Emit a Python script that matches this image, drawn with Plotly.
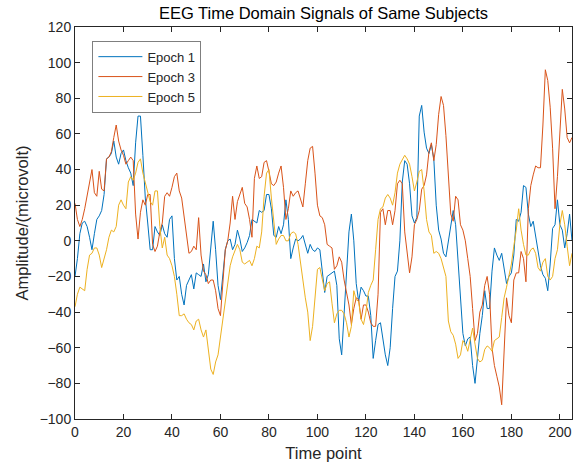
import plotly.graph_objects as go

time_points = list(range(206))

epoch1 = [-20, -10, 4, 10, 11, 8, 2, -5, 4, 12, 14, 17, 26, 46, 47, 49, 56, 47, 43, 49,
          51, 45, 41, 38, 31, 55, 70, 70, 48, 24, 10, -5, -5, 8, 5, 3, 9, 4, 2, 12,
          14, -10, -22, -20, -30, -36, -25, -22, -19, -27, -18, -19, -20, -13, -23, -19, -5, 11, -5, -25,
          -33, -17, -5, 0, 1, -5, -2, 6, 1, -6, -4, -1, 3, 12, 11, 10, 17, 16, 17, 26,
          26, 18, 3, 2, 8, 4, 9, 23, 12, -10, -4, 1, 0, 1, 3, -2, -7, -2, -5, -6,
          -4, -5, -18, -29, -20, -19, -18, -17, -25, -55, -64, -40, -15, 5, 15, 0, -24, -34, -26, -28,
          -31, -31, -42, -66, -56, -47, -46, -55, -64, -70, -60, -38, -20, -17, 0, 33, 45, 43, 32, 14,
          10, 13, 70, 76, 61, 52, 49, 54, 46, 20, 6, 1, -7, -9, 0, 10, 17, 9, -11, -32,
          -52, -59, -55, -54, -70, -80, -65, -52, -42, -28, -38, -38, -17, -4, -8, -11, -7, -16, -24, -20,
          -18, -8, 12, 11, 16, 31, 30, 15, 8, 11, 2, -6, -14, -19, -21, -28, -13, 7, 9, 23,
          9, 6, -4, 4, 15, 0]

epoch3 = [21, 12, 8, 12, 18, 26, 34, 40, 27, 25, 39, 29, 28, 46, 47, 50, 58, 65, 56, 51,
          48, 43, 45, 47, 45, 15, 1, 16, 23, 20, 26, 26, -2, -6, -3, 5, 10, 25, 27, 25,
          30, 36, 38, 28, 24, 14, 3, -7, -6, -3, -5, 13, -8, -17, -19, -24, -22, -22, -28, -38,
          -42, -22, -5, 0, 10, 25, 12, 22, 26, 30, 21, 19, 12, 2, 35, 42, 35, 36, 44, 45,
          39, 32, 31, 33, 38, 42, 30, 12, 18, 28, 25, 27, 28, 24, 19, 32, 45, 52, 53, 38,
          20, 14, 13, 9, -2, -3, -4, -16, -14, -9, -12, -22, -30, -36, -47, -38, -32, -33, -44, -36,
          -36, -40, -46, -48, -48, -30, 16, 18, 9, 17, 17, 9, 17, 32, 34, 32, 5, -8, -18, -9,
          9, 12, 17, 29, 31, 37, 50, 55, 45, 54, 71, 81, 76, 59, 37, 15, 11, 25, 23, 9,
          6, 0, -10, -20, -38, -56, -52, -40, -36, -25, -20, -30, -60, -70, -76, -82, -92, -60, -32, -42,
          -46, -22, -18, -18, -6, -10, -23, 18, 31, 37, 42, 41, 41, 65, 96, 90, 75, 52, 18, 36,
          60, 85, 74, 58, 55, 58]

epoch5 = [-37, -30, -26, -27, -28, -16, -8, -7, -4, -4, -8, -15, -10, -5, 2, 6, 5, 8, 20, 23,
          20, 18, 33, 36, 34, 38, 44, 46, 38, 33, 28, 22, 20, 28, 28, 8, -4, 2, -8, -10,
          -14, -20, -30, -42, -42, -41, -44, -46, -47, -50, -45, -44, -50, -54, -50, -62, -72, -75, -68, -64,
          -54, -44, -34, -25, -14, -9, -5, -2, -5, -12, -13, -12, -11, -14, -10, -3, -4, 5, 25, 38,
          40, 24, 12, -2, 1, 3, 3, 0, 0, 4, 5, 4, -2, -13, -24, -32, -40, -56, -48, -30,
          -16, -15, -21, -28, -24, -23, -35, -46, -41, -39, -39, -41, -46, -54, -48, -28, -33, -34, -44, -47,
          -40, -29, -25, -22, -5, 12, 18, 19, 24, 26, 24, 20, 27, 38, 43, 46, 48, 46, 43, 36,
          28, 33, 39, 40, 28, 12, 5, 3, -7, -6, -7, -10, -15, -20, -45, -51, -53, -58, -66, -64,
          -56, -58, -62, -55, -49, -58, -66, -68, -67, -61, -59, -60, -62, -56, -55, -54, -43, -32, -26, -20,
          -13, -3, 6, 18, 6, -2, -8, -8, -5, -4, -7, -15, -17, -12, -10, -20, -22, -20, -10, -5,
          9, 17, 9, -3, -14, -7]

series_names = ["Epoch 1", "Epoch 3", "Epoch 5"]
series_colors = ["#0072BD", "#D95319", "#EDB120"]
x_ticks = list(range(0, 201, 20))
y_ticks = list(range(-100, 121, 20))

fig = go.Figure()
for name, vals, col in zip(series_names, [epoch1, epoch3, epoch5], series_colors):
    fig.add_trace(go.Scatter(x=time_points, y=vals, mode="lines", name=name,
                             line=dict(color=col, width=1)))

FONT = "Liberation Sans, Arial"
axis_common = dict(showgrid=False, zeroline=False, showline=True, linecolor="#262626",
                   linewidth=1, mirror="ticks", ticks="inside", ticklen=5, tickcolor="#262626",
                   tickfont=dict(family=FONT, size=14, color="#262626"))

fig.update_layout(
    width=582, height=468,
    margin=dict(l=75, r=9, t=27, b=47),
    paper_bgcolor="white", plot_bgcolor="white",
    title=dict(text="EEG Time Domain Signals of Same Subjects", x=0.5, xref="paper",
               xanchor="center", y=0.971, yanchor="middle",
               font=dict(family=FONT, size=16.5, color="#000000")),
    xaxis=dict(range=[0, 205], tickvals=x_ticks,
               title=dict(text="Time point", standoff=8,
                          font=dict(family=FONT, size=16.5, color="#262626")),
               **axis_common),
    yaxis=dict(range=[-100, 120], tickvals=y_ticks,
               title=dict(text="Amplitude/(microvolt)", standoff=6,
                          font=dict(family=FONT, size=16.5, color="#262626")),
               **axis_common),
    legend=dict(x=0.035, y=0.965, xanchor="left", yanchor="top",
                bgcolor="white", bordercolor="#7f7f7f", borderwidth=1,
                font=dict(family=FONT, size=13, color="#262626"),
                tracegroupgap=0, itemwidth=44),
    showlegend=True,
)

fig.write_html("out.html")
